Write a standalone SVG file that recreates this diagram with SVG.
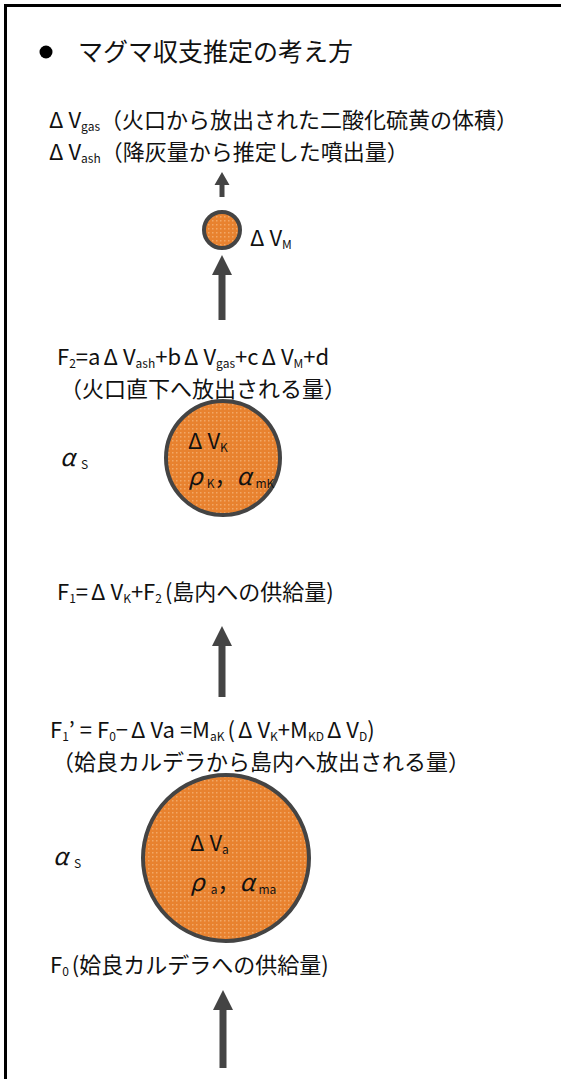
<svg xmlns="http://www.w3.org/2000/svg" width="561" height="1079" viewBox="0 0 561 1079">
<style>
text{font-family:"Noto Sans CJK JP","Noto Sans",sans-serif;fill:#111;}
.t{font-size:22px;}
.title{font-size:25px;}
.s{font-size:12px;}
.g{font-size:24px;font-style:italic;}
.node{fill:url(#dots);stroke:#444;stroke-width:4;}
.arrow{fill:#444;}
</style>
<defs>
<pattern id="dots" width="4" height="4" patternUnits="userSpaceOnUse">
<rect width="4" height="4" fill="#E8822F"/>
<rect x="0" y="0" width="1.5" height="1.5" fill="#F2A866"/>
</pattern>
</defs>
<rect width="561" height="1079" fill="#fff"/>
<g id="frame">
<path d="M5.5 1079 V5.5 H561" fill="none" stroke="#000" stroke-width="3"/>
</g>
<g id="title">
<circle cx="46" cy="52" r="6.5" fill="#000"/>
<text class="title" x="78" y="61">マグマ収支推定の考え方</text>
</g>
<g id="observations">
<text class="t" x="49" y="128">Δ<tspan dx="5">V</tspan><tspan class="s" dy="3">gas</tspan><tspan dy="-3">（火口から放出された二酸化硫黄の体積）</tspan></text>
<text class="t" x="49" y="160">Δ<tspan dx="5">V</tspan><tspan class="s" dy="3">ash</tspan><tspan dy="-3">（降灰量から推定した噴出量）</tspan></text>
</g>
<g id="node-M">
<circle class="node" cx="222" cy="230" r="18"/>
<text class="t" x="250" y="246">Δ<tspan dx="5">V</tspan><tspan class="s" dy="3">M</tspan></text>
</g>
<g id="label-F2">
<text class="t" x="57" y="365">F<tspan class="s" dy="3">2</tspan><tspan dy="-3">=a</tspan><tspan dx="3">Δ</tspan><tspan dx="5">V</tspan><tspan class="s" dy="3">ash</tspan><tspan dy="-3">+b</tspan><tspan dx="3">Δ</tspan><tspan dx="5">V</tspan><tspan class="s" dy="3">gas</tspan><tspan dy="-3">+c</tspan><tspan dx="3">Δ</tspan><tspan dx="5">V</tspan><tspan class="s" dy="3">M</tspan><tspan dy="-3">+d</tspan></text>
<text class="t" x="60" y="397">（火口直下へ放出される量）</text>
</g>
<g id="node-K">
<circle class="node" cx="223" cy="458" r="57"/>
<text class="t" x="188" y="449">Δ<tspan dx="5">V</tspan><tspan class="s" dy="3">K</tspan></text>
<text class="t" x="188" y="485"><tspan class="g">ρ</tspan><tspan class="s" dx="4" dy="3">K</tspan><tspan dy="-3">，</tspan><tspan class="g">α</tspan><tspan class="s" dx="4" dy="3">mK</tspan></text>
<text class="t" x="60" y="466"><tspan class="g">α</tspan><tspan class="s" dx="6" dy="3">S</tspan></text>
</g>
<g id="label-F1">
<text class="t" x="57" y="600">F<tspan class="s" dy="3">1</tspan><tspan dy="-3">=</tspan><tspan dx="3">Δ</tspan><tspan dx="5">V</tspan><tspan class="s" dy="3">K</tspan><tspan dy="-3">+F</tspan><tspan class="s" dy="3">2</tspan><tspan dy="-3" dx="3">(島内への供給量)</tspan></text>
</g>
<g id="label-F1p">
<text class="t" x="50" y="738">F<tspan class="s" dy="3">1</tspan><tspan dy="-3">’ = F</tspan><tspan class="s" dy="3">0</tspan><tspan dy="-3">−</tspan><tspan dx="3">Δ</tspan><tspan dx="5">Va =M</tspan><tspan class="s" dy="3">aK</tspan><tspan dy="-3" dx="3">(</tspan><tspan dx="3">Δ</tspan><tspan dx="5">V</tspan><tspan class="s" dy="3">K</tspan><tspan dy="-3">+M</tspan><tspan class="s" dy="3">KD</tspan><tspan dy="-3" dx="3">Δ</tspan><tspan dx="5">V</tspan><tspan class="s" dy="3">D</tspan><tspan dy="-3">)</tspan></text>
<text class="t" x="52" y="770">（姶良カルデラから島内へ放出される量）</text>
</g>
<g id="node-a">
<circle class="node" cx="226" cy="858" r="83"/>
<text class="t" x="190" y="851">Δ<tspan dx="5">V</tspan><tspan class="s" dy="3">a</tspan></text>
<text class="t" x="190" y="891"><tspan class="g">ρ</tspan><tspan class="s" dx="6" dy="3">a</tspan><tspan dy="-3">，</tspan><tspan class="g">α</tspan><tspan class="s" dx="4" dy="3">ma</tspan></text>
<text class="t" x="53" y="865"><tspan class="g">α</tspan><tspan class="s" dx="6" dy="3">S</tspan></text>
</g>
<g id="label-F0">
<text class="t" x="50" y="973">F<tspan class="s" dy="3">0</tspan><tspan dy="-3" dx="3">(姶良カルデラへの供給量)</tspan></text>
</g>
<g id="connectors">
<path class="arrow" d="M222 172 L229.5 185 L224.5 185 L224.5 197 L219.5 197 L219.5 185 L214.5 185 Z"/>
<path class="arrow" d="M222 255 L232 275 L225.5 275 L225.5 320 L218.5 320 L218.5 275 L212 275 Z"/>
<path class="arrow" d="M222 626 L232 646 L225.5 646 L225.5 697 L218.5 697 L218.5 646 L212 646 Z"/>
<path class="arrow" d="M223 990 L233 1010 L226.5 1010 L226.5 1068 L219.5 1068 L219.5 1010 L213 1010 Z"/>
</g>
</svg>
